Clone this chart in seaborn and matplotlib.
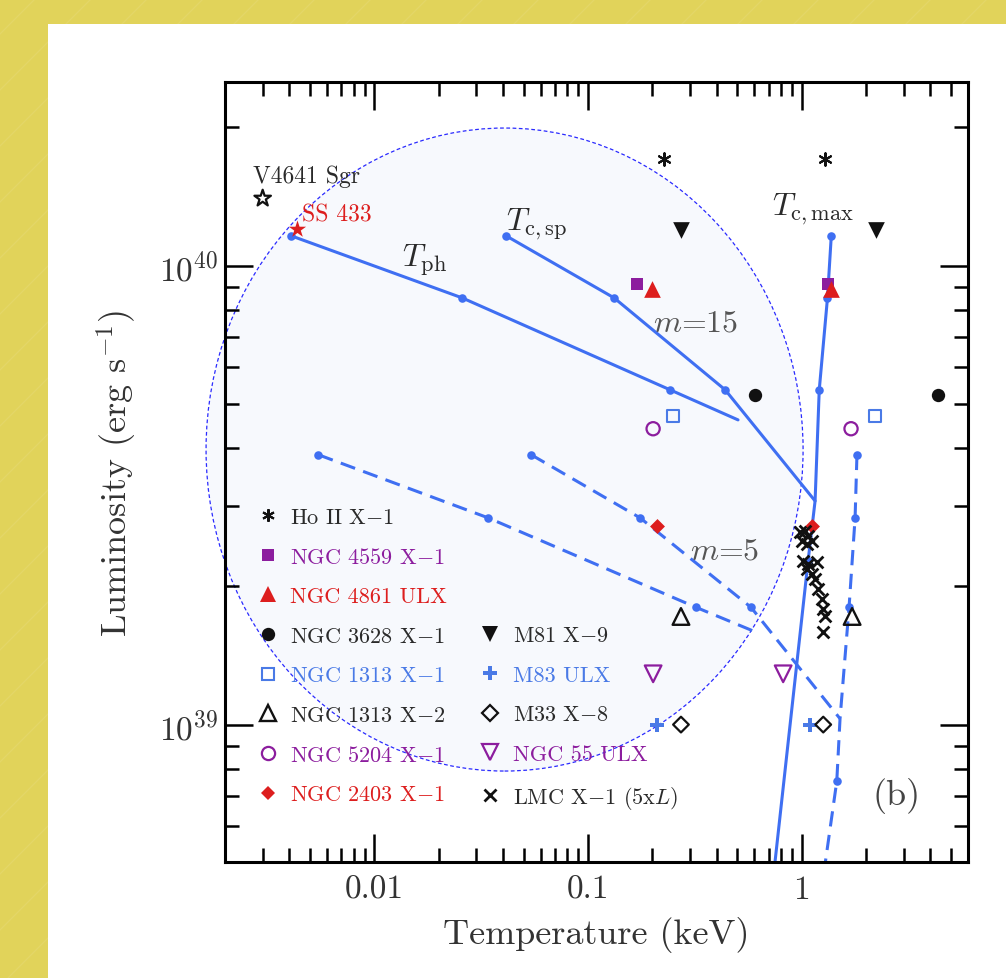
import matplotlib
matplotlib.use('Agg')
import matplotlib.pyplot as plt
from matplotlib.lines import Line2D
from matplotlib.patches import Ellipse, Rectangle
from matplotlib.ticker import FuncFormatter, NullFormatter, LogLocator
import numpy as np
import seaborn as sns

# %% data: temperatures in keV, luminosities in erg/s

# model tracks, m = 15 (solid)
tph15_T = [0.00409, 0.02576, 0.242, 0.503]
tph15_L = [1.16e40, 8.5e39, 5.36e39, 4.61e39]
tph15_dot = [True, True, True, False]

tcsp15_T = [0.0414, 0.1324, 0.438, 1.154]
tcsp15_L = [1.16e40, 8.5e39, 5.36e39, 3.07e39]
tcsp15_dot = [True, True, True, False]

tcmax15_T = [1.374, 1.319, 1.207, 1.154, 1.070, 0.745]
tcmax15_L = [1.16e40, 8.5e39, 5.36e39, 3.07e39, 2.27e39, 4.9e38]
tcmax15_dot = [True, True, True, False, True, False]

# model tracks, m = 5 (dashed)
tph5_T = [0.00547, 0.0341, 0.3205, 0.591]
tph5_L = [3.87e39, 2.82e39, 1.80e39, 1.60e39]
tph5_dot = [True, True, True, False]

tcsp5_T = [0.0542, 0.1752, 0.579, 1.51]
tcsp5_L = [3.87e39, 2.82e39, 1.80e39, 1.03e39]
tcsp5_dot = [True, True, True, False]

tcmax5_T = [1.812, 1.776, 1.664, 1.51, 1.458, 1.28]
tcmax5_L = [3.87e39, 2.82e39, 1.80e39, 1.03e39, 7.53e38, 4.9e38]
tcmax5_dot = [True, True, True, False, True, False]

# observed sources (two temperatures per source)
v4641_T = [0.0030]
v4641_L = [1.40e40]
ss433_T = [0.00432]
ss433_L = [1.20e40]
hoii_T = [0.227, 1.285]
hoii_L = [1.71e40, 1.71e40]
m81_T = [0.272, 2.22]
m81_L = [1.196e40, 1.196e40]
n4559_T = [0.170, 1.33]
n4559_L = [9.12e39, 9.12e39]
n4861_T = [0.1995, 1.37]
n4861_L = [8.9e39, 8.9e39]
n3628_T = [0.605, 4.34]
n3628_L = [5.23e39, 5.23e39]
n1313x1_T = [0.25, 2.2]
n1313x1_L = [4.70e39, 4.70e39]
n5204_T = [0.2015, 1.70]
n5204_L = [4.41e39, 4.41e39]
n2403_T = [0.21, 1.12]
n2403_L = [2.71e39, 2.71e39]
n1313x2_T = [0.272, 1.72]
n1313x2_L = [1.72e39, 1.72e39]
n55_T = [0.2015, 0.818]
n55_L = [1.29e39, 1.29e39]
m83_T = [0.21, 1.09]
m83_L = [1.0e39, 1.0e39]
m33_T = [0.272, 1.26]
m33_L = [1.0e39, 1.0e39]
lmc_T = [0.982, 1.036, 1.070, 1.003, 1.059, 1.117, 1.014, 1.070, 1.179,
         1.059, 1.117, 1.154, 1.192, 1.245, 1.258, 1.285, 1.258]
lmc_L = [2.63e39, 2.64e39, 2.58e39, 2.51e39, 2.48e39, 2.51e39, 2.27e39,
         2.24e39, 2.26e39, 2.18e39, 2.13e39, 2.08e39, 1.97e39, 1.88e39,
         1.79e39, 1.72e39, 1.59e39]

x_ticks = [0.01, 0.1, 1]

# %% style
sns.set_theme(style='ticks')
plt.rcParams['font.family'] = ['cmr10']
plt.rcParams['mathtext.fontset'] = 'cm'
plt.rcParams['axes.unicode_minus'] = False
plt.rcParams['axes.formatter.use_mathtext'] = True

BLUE = '#3f6ff2'
SBLUE = '#4a7ae6'
PURPLE = '#8c1d9e'
RED = '#dd1e1e'
BLACK = '#111111'
TEXT = '#2a2a2a'

fig = plt.figure(figsize=(10.06, 9.79), dpi=100)
fig.patch.set_facecolor('#e1d35a')
fig.add_artist(Rectangle((48 / 1006, 0), 1 - 48 / 1006, 1 - 25 / 979,
                         transform=fig.transFigure, facecolor='white',
                         edgecolor='none', zorder=-1))
for off in range(-1000, 1100, 56):
    fig.add_artist(Line2D([off, off + 1100], [0, 1100], transform=None,
                          color='white', alpha=0.09, lw=0.9, zorder=-2))

ax = fig.add_axes([0.2237, 0.1185, 0.7386, 0.7967])
ax.set_facecolor('white')
ax.set_xscale('log')
ax.set_yscale('log')

# highlighted region
ax.add_patch(Ellipse((0.3762, 0.5288), 0.8035, 0.8244, transform=ax.transAxes,
                     facecolor='#f7f9fd', edgecolor='#2a2aff', lw=0.9,
                     linestyle=(0, (3, 2)), clip_on=False, zorder=0.5))

# %% model tracks
tracks = [
    (tph15_T, tph15_L, tph15_dot, '-'),
    (tcsp15_T, tcsp15_L, tcsp15_dot, '-'),
    (tcmax15_T, tcmax15_L, tcmax15_dot, '-'),
    (tph5_T, tph5_L, tph5_dot, (0, (5, 2.8))),
    (tcsp5_T, tcsp5_L, tcsp5_dot, (0, (5, 2.8))),
    (tcmax5_T, tcmax5_L, tcmax5_dot, (0, (5, 2.8))),
]
for T, L, dot, ls in tracks:
    sns.lineplot(x=T, y=L, sort=False, estimator=None, color=BLUE,
                 linewidth=2.2, linestyle=ls, ax=ax, zorder=2)
    Td = [t for t, d in zip(T, dot) if d]
    Ld = [l for l, d in zip(L, dot) if d]
    sns.scatterplot(x=Td, y=Ld, marker='o', s=38, color=BLUE,
                    edgecolor=BLUE, linewidth=0, ax=ax, zorder=3)

# %% sources
ASTER = (6, 2, 0)
sources = [
    # T, L, marker, size, colour, filled, edge width, label
    (hoii_T, hoii_L, ASTER, 9, BLACK, True, 1.5, r'Ho II X$-$1'),
    (n4559_T, n4559_L, 's', 8.6, PURPLE, True, 0, r'NGC 4559 X$-$1'),
    (n4861_T, n4861_L, '^', 12, RED, True, 0, 'NGC 4861 ULX'),
    (n3628_T, n3628_L, 'o', 9.6, BLACK, True, 0, r'NGC 3628 X$-$1'),
    (n1313x1_T, n1313x1_L, 's', 9, SBLUE, False, 1.5, r'NGC 1313 X$-$1'),
    (n1313x2_T, n1313x2_L, '^', 12, BLACK, False, 1.7, r'NGC 1313 X$-$2'),
    (n5204_T, n5204_L, 'o', 9.5, PURPLE, False, 1.6, r'NGC 5204 X$-$1'),
    (n2403_T, n2403_L, 'D', 7.6, RED, True, 0, r'NGC 2403 X$-$1'),
    (m81_T, m81_L, 'v', 12, BLACK, True, 0, r'M81 X$-$9'),
    (m83_T, m83_L, 'P', 9.5, SBLUE, True, 0, 'M83 ULX'),
    (m33_T, m33_L, 'D', 8, BLACK, False, 1.6, r'M33 X$-$8'),
    (n55_T, n55_L, 'v', 12, PURPLE, False, 1.6, 'NGC 55 ULX'),
    (lmc_T, lmc_L, 'x', 8.5, BLACK, True, 2.0, r'LMC X$-$1 (5x$L$)'),
]
handles = {}
for T, L, mk, ms, col, filled, lw, label in sources:
    unfilled_line = mk in ('x', ASTER)
    if unfilled_line:
        sns.scatterplot(x=T, y=L, marker=mk, s=ms ** 2, color=col,
                        linewidth=lw, ax=ax, zorder=5)
    elif filled:
        sns.scatterplot(x=T, y=L, marker=mk, s=ms ** 2, color=col,
                        edgecolor=col, linewidth=0, ax=ax, zorder=4)
    else:
        sns.scatterplot(x=T, y=L, marker=mk, s=ms ** 2, color=col,
                        facecolor='none', edgecolor=col, linewidth=lw,
                        ax=ax, zorder=4)
    handles[label] = Line2D([], [], ls='none', marker=mk, ms=ms, color=col,
                            mfc=col if filled else 'none', mec=col,
                            mew=lw if (not filled or unfilled_line) else 0)

sns.scatterplot(x=ss433_T, y=ss433_L, marker='*', s=13 ** 2, color=RED,
                edgecolor=RED, linewidth=0, ax=ax, zorder=6)
sns.scatterplot(x=v4641_T, y=v4641_L, marker='*', s=12.5 ** 2, color=BLACK,
                facecolor='none', edgecolor=BLACK, linewidth=1.6, ax=ax,
                zorder=6)

# %% labels on the plot
ax.annotate('V4641 Sgr', xy=(v4641_T[0], v4641_L[0]), xytext=(-7, 12),
            textcoords='offset points', fontsize=17, color=TEXT,
            ha='left', va='baseline')
ax.annotate('SS 433', xy=(ss433_T[0], ss433_L[0]), xytext=(4, 6),
            textcoords='offset points', fontsize=17, color=RED,
            ha='left', va='baseline')
ax.text(0.0135, 1.0e40, r'$T_{\rm ph}$', fontsize=23, color=TEXT,
        va='baseline')
ax.text(0.0414, 1.2e40, r'$T_{\rm c,sp}$', fontsize=23, color=TEXT,
        va='baseline')
ax.text(0.726, 1.296e40, r'$T_{\rm c,max}$', fontsize=23, color=TEXT,
        va='baseline')
ax.text(0.2015, 7.21e39, r'$m$=15', fontsize=23, color='#555555',
        va='baseline')
ax.text(0.300, 2.30e39, r'$m$=5', fontsize=23, color='#555555',
        va='baseline')
ax.text(0.872, 0.074, '(b)', fontsize=26, color='#444444',
        transform=ax.transAxes, va='baseline')

# %% legend
left_col = [s[-1] for s in sources[:8]]
right_col = [s[-1] for s in sources[8:]]
blank = Line2D([], [], ls='none')
leg_handles = [handles[l] for l in left_col] + [blank] * 3 + \
    [handles[l] for l in right_col]
leg_labels = left_col + [' '] * 3 + right_col
colour_of = {s[-1]: s[4] for s in sources}
leg_colours = [colour_of[l] for l in left_col] + [TEXT] * 3 + \
    [colour_of[l] for l in right_col]
leg_colours = [TEXT if c == BLACK else c for c in leg_colours]
ax.legend(leg_handles, leg_labels, ncol=2, loc='upper left',
          bbox_to_anchor=(0.043, 0.455), frameon=False, fontsize=16,
          labelcolor=leg_colours, handlelength=1.0, handletextpad=0.5,
          labelspacing=0.9, columnspacing=1.45, borderpad=0,
          borderaxespad=0)

# %% axes
ax.set_xlim(0.002, 6.0)
ax.set_ylim(5.02e38, 2.51e40)
ax.set_xticks(x_ticks)
ax.xaxis.set_major_formatter(FuncFormatter(lambda v, p: f'{v:g}'))
ax.xaxis.set_minor_locator(LogLocator(subs=np.arange(2, 10), numticks=20))
ax.xaxis.set_minor_formatter(NullFormatter())
ax.yaxis.set_minor_locator(LogLocator(subs=np.arange(2, 10), numticks=20))
ax.yaxis.set_minor_formatter(NullFormatter())
ax.tick_params(which='both', direction='in', top=True, right=True,
               width=1.8, color='black', labelcolor='#333333')
ax.tick_params(which='major', length=20, labelsize=24)
ax.tick_params(axis='x', which='major', pad=9)
ax.tick_params(axis='y', which='major', pad=5)
ax.tick_params(which='minor', length=10)
for sp in ax.spines.values():
    sp.set_linewidth(2.2)
    sp.set_color('black')
    sp.set_visible(True)
ax.set_xlabel('Temperature (keV)', fontsize=26, color='#333333',
              labelpad=9)
ax.set_ylabel(r'Luminosity (erg s$^{-1}$)', fontsize=26, color='#333333',
              labelpad=14)

fig.savefig('out.png', dpi=100)
